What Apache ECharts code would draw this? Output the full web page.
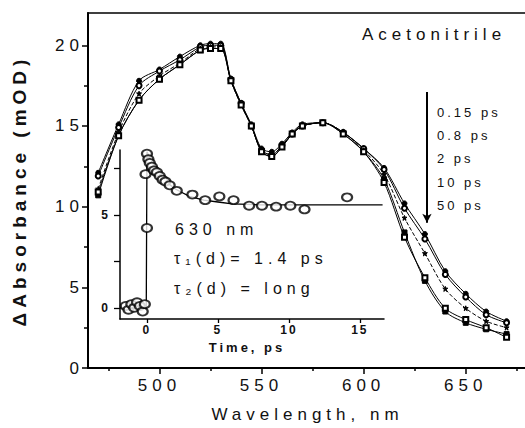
<!DOCTYPE html>
<html><head><meta charset="utf-8">
<script src="https://cdn.jsdelivr.net/npm/echarts@6/dist/echarts.min.js"></script>
<style>
html,body{margin:0;padding:0;background:#fff;}
#chart{width:525px;height:428px;}
#chart text{letter-spacing:5px;}
#chart text[style*="12px"]{letter-spacing:2px;}
#chart text[style*="13px"]{letter-spacing:3px;}
</style></head>
<body><div id="chart"></div>
<script>
// ---- data ----
const wavelengths = [470,480,490,500,510,520,525,530,535,540,545,550,555,560,565,570,580,590,600,610,620,630,640,650,660,670];
const abs015 = [12.1,15.1,17.8,18.5,19.3,20.0,20.1,20.1,17.9,16.4,15.1,13.6,13.4,13.9,14.6,15.1,15.2,14.6,13.6,12.4,10.2,8.3,6.0,4.6,3.5,2.9];
const abs08  = [11.9,14.9,17.5,18.4,19.1,19.9,20.0,20.0,17.9,16.4,15.0,13.5,13.2,13.8,14.5,15.0,15.2,14.6,13.6,12.3,9.9,8.0,5.8,4.4,3.3,2.8];
const abs2   = [11.1,14.6,17.0,18.1,18.9,19.8,19.9,19.9,17.8,16.3,15.0,13.5,13.2,13.8,14.5,15.0,15.2,14.6,13.5,12.0,9.3,7.1,4.9,3.7,2.9,2.5];
const abs10  = [10.7,14.4,16.6,17.9,18.8,19.7,19.8,19.8,17.8,16.3,15.0,13.4,13.1,13.7,14.5,15.0,15.2,14.5,13.4,11.7,8.4,5.4,3.5,2.8,2.4,2.1];
const abs50  = [10.9,14.4,16.6,17.9,18.8,19.7,19.8,19.8,17.8,16.3,15.0,13.4,13.1,13.7,14.5,15.0,15.2,14.5,13.4,11.5,8.1,5.6,3.7,3.0,2.5,1.9];
const delayLabels = ['0.15 ps','0.8 ps','2 ps','10 ps','50 ps'];
const xMajorTicks = [500,550,600,650];
const xMinorTicks = [475,525,575,625,675];
const yMajorTicks = [0,5,10,15,20];
const yMinorTicks = [2.5,7.5,12.5,17.5];
const arrowWavelength = 631;
const arrowFrom = 17.1, arrowTo = 9.0;

// inset kinetics at 630 nm
const kinTime = [-1.5,-1.3,-1.1,-0.9,-0.7,-0.5,-0.3,-0.15,0.0,-0.1,0.0,0.1,0.2,0.35,0.5,0.7,0.9,1.1,1.3,1.6,2.1,3.2,4.1,5.1,6.1,7.2,8.1,9.1,10.1,11.1,14.1];
const kinSignal = [0.1,-0.1,0.2,0.0,0.3,0.1,-0.2,0.2,4.3,7.2,8.3,8.0,7.8,7.6,7.4,7.3,7.1,6.9,6.8,6.6,6.3,6.1,5.8,6.0,5.8,5.5,5.5,5.45,5.5,5.3,5.95];
const fitTime = [-1.9,-0.05,0.0,0.3,0.6,1.0,1.5,2.0,2.5,3.0,4.0,5.0,6.0,8.0,16.6];
const fitSignal = [0.0,0.0,8.4,7.9,7.5,7.1,6.7,6.4,6.2,6.0,5.8,5.7,5.6,5.55,5.55];
const insetXTicks = [0,5,10,15];
const insetYLabels = [0,5];
const insetYTicks = [0,2.5,5,7.5];

// ---- build ----
const pairs = (xs, ys) => xs.map((x, i) => [x, ys[i]]);
const spectra = [abs015, abs08, abs2, abs10, abs50];
const symbols = ['circle','emptyCircle','path://M0,-10L2.5,-3L10,-3L4,2L6,10L0,5L-6,10L-4,2L-10,-3L-2.5,-3Z','rect','emptyRect'];
const lineTypes = ['solid','solid','dashed','solid','solid'];
const FONT = 'Liberation Sans, Arial, sans-serif';

const series = spectra.map((s, i) => ({
  name: delayLabels[i], type: 'line', xAxisIndex: 0, yAxisIndex: 0,
  data: pairs(wavelengths, s), smooth: 0.3,
  symbol: symbols[i], symbolSize: 5, showSymbol: true,
  lineStyle: {color: '#000', width: 1, type: lineTypes[i]},
  itemStyle: {color: '#000', borderColor: '#000', borderWidth: 1},
  z: 3
}));
series[0].markLine = {
  silent: true, symbol: ['none','arrow'], symbolSize: [7, 9],
  lineStyle: {color: '#000', width: 2, type: 'solid'},
  label: {show: false},
  data: [[{coord: [arrowWavelength, arrowFrom]}, {coord: [arrowWavelength, arrowTo]}]]
};
series.push({
  type: 'line', xAxisIndex: 2, yAxisIndex: 2, data: pairs(fitTime, fitSignal),
  showSymbol: false, symbol: 'none', lineStyle: {color: '#000', width: 1.3}, z: 2
});
series.push({
  type: 'scatter', xAxisIndex: 2, yAxisIndex: 2, data: pairs(kinTime, kinSignal),
  symbol: 'emptyCircle', symbolSize: [10, 8],
  itemStyle: {color: '#000', borderColor: '#000', borderWidth: 1.2}, z: 4
});

const chart = echarts.init(document.getElementById('chart'), null, {renderer: 'svg'});
chart.setOption({
  animation: false,
  backgroundColor: '#fff',
  textStyle: {fontFamily: FONT},
  grid: [
    {left: 88, top: 13, width: 439, height: 355, show: true, borderColor: '#000', borderWidth: 1.5, backgroundColor: 'transparent', outerBoundsMode: 'none', containLabel: false},
    {left: 120, top: 150, width: 264, height: 169, outerBoundsMode: 'none', containLabel: false}
  ],
  xAxis: [
    {type: 'value', gridIndex: 0, min: 465, max: 680, position: 'bottom',
     name: 'Wavelength, nm', nameLocation: 'middle', nameGap: 38,
     nameTextStyle: {fontSize: 17, color: '#111', fontFamily: FONT},
     axisLine: {show: true, onZero: false, lineStyle: {color: '#000', width: 2}},
     axisTick: {show: true, length: 6, customValues: xMajorTicks, lineStyle: {color: '#000', width: 1.5}},
     axisLabel: {customValues: xMajorTicks, fontSize: 17, color: '#111', margin: 9, fontFamily: FONT},
     splitLine: {show: false}},
    {type: 'value', gridIndex: 0, min: 465, max: 680, position: 'bottom', offset: 0,
     axisLine: {show: false, onZero: false}, axisLabel: {show: false}, splitLine: {show: false},
     axisTick: {show: true, length: 3, customValues: xMinorTicks, lineStyle: {color: '#000', width: 1.5}}},
    {type: 'value', gridIndex: 1, min: -1.9, max: 16.7, position: 'bottom',
     name: 'Time, ps', nameLocation: 'middle', nameGap: 22,
     nameTextStyle: {fontSize: 13, fontWeight: 'bold', color: '#111', fontFamily: FONT, padding: [0, 10, 0, 0]},
     axisLine: {show: true, onZero: false, lineStyle: {color: '#000', width: 1.5}},
     axisTick: {show: true, length: 4, customValues: insetXTicks, lineStyle: {color: '#000', width: 1.3}},
     axisLabel: {customValues: insetXTicks, fontSize: 12, fontWeight: 'bold', color: '#111', margin: 5, fontFamily: FONT},
     splitLine: {show: false}}
  ],
  yAxis: [
    {type: 'value', gridIndex: 0, min: 0, max: 22, position: 'left',
     name: 'ΔAbsorbance (mOD)', nameLocation: 'middle', nameGap: 59, nameRotate: 90,
     nameTextStyle: {fontSize: 19, fontWeight: 'bold', color: '#111', fontFamily: FONT},
     axisLine: {show: true, onZero: false, lineStyle: {color: '#000', width: 2}},
     axisTick: {show: true, length: 6, customValues: yMajorTicks, lineStyle: {color: '#000', width: 1.5}},
     axisLabel: {customValues: yMajorTicks, fontSize: 17, color: '#111', margin: 4, fontFamily: FONT},
     splitLine: {show: false}},
    {type: 'value', gridIndex: 0, min: 0, max: 22, position: 'left', offset: 0,
     axisLine: {show: false, onZero: false}, axisLabel: {show: false}, splitLine: {show: false},
     axisTick: {show: true, length: 4, customValues: yMinorTicks, lineStyle: {color: '#000', width: 1.5}}},
    {type: 'value', gridIndex: 1, min: -0.6, max: 8.5,
     axisLine: {show: true, onZero: false, lineStyle: {color: '#000', width: 1.5}},
     axisTick: {show: true, length: 6, customValues: insetYTicks, lineStyle: {color: '#000', width: 1.3}},
     axisLabel: {customValues: insetYLabels, fontSize: 12, fontWeight: 'bold', color: '#111', margin: 10, fontFamily: FONT},
     splitLine: {show: false}}
  ],
  graphic: [
    {type: 'text', left: 362, top: 26, style: {text: 'Acetonitrile', font: '17px ' + FONT, fill: '#111'}},
    ...delayLabels.map((t, i) => ({type: 'text', left: 437, top: 106 + i * 23.2,
      style: {text: t, font: '13px ' + FONT, fill: '#111'}})),
    {type: 'text', left: 175, top: 221, style: {text: '630 nm', font: '16px ' + FONT, fill: '#111'}},
    {type: 'text', left: 174, top: 250, style: {text: 'τ₁(d)= 1.4 ps', font: '16px ' + FONT, fill: '#111'}},
    {type: 'text', left: 174, top: 280, style: {text: 'τ₂(d) = long', font: '16px ' + FONT, fill: '#111'}}
  ],
  series: series
});
</script>
</body></html>
